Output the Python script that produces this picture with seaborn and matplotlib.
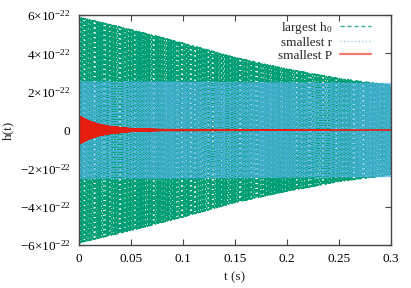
import numpy as np
import pandas as pd
import matplotlib
matplotlib.use("Agg")
import matplotlib.pyplot as plt
import seaborn as sns

# envelope amplitudes (units of 1e-22)
t_env_h0 = [0.0, 0.05, 0.1, 0.15, 0.2, 0.25, 0.3]
amp_h0 = [5.9, 5.25, 4.55, 3.8, 3.2, 2.7, 2.35]
t_env_r = [0.0, 0.15, 0.3]
amp_r = [2.55, 2.5, 2.45]
t_env_P = [0.0, 0.01, 0.02, 0.03, 0.05, 0.08, 0.3]
amp_P = [0.73, 0.45, 0.28, 0.18, 0.07, 0.02, 0.0]

# carrier frequencies (Hz), chosen so the bands fill like the reference
freq_h0 = 1130.0
freq_r = 1270.0
freq_P = 1950.0

labels = ["largest h$_0$", "smallest r", "smallest P"]
colors = ["#009e73", "#56b4e9", "#e51e10"]

xticks = [0, 0.05, 0.1, 0.15, 0.2, 0.25, 0.3]
xtick_labels = ["0", "0.05", "0.1", "0.15", "0.2", "0.25", "0.3"]
yticks = [-6, -4, -2, 0, 2, 4, 6]

sns.set_style("ticks")
plt.rcParams['font.family'] = ['Liberation Serif', 'DejaVu Serif']
plt.rcParams['mathtext.fontset'] = 'custom'
plt.rcParams['mathtext.rm'] = 'Liberation Serif'
plt.rcParams['mathtext.it'] = 'Liberation Serif:italic'
plt.rcParams['font.size'] = 9.5

t = np.linspace(0, 0.3, 60001)


def wave(t_env, amp, f):
    env = np.interp(t, t_env, amp)
    return env * np.cos(2 * np.pi * f * t) * 1e-22


df = pd.DataFrame({
    "t": t,
    "h0": wave(t_env_h0, amp_h0, freq_h0),
    "r": wave(t_env_r, amp_r, freq_r),
    "P": wave(t_env_P, amp_P, freq_P),
})

fig = plt.figure(figsize=(4.11, 2.88), dpi=100)
ax = fig.add_axes([0.192, 0.149, 0.759, 0.799])

sns.lineplot(data=df, x="t", y="h0", ax=ax, color=colors[0], lw=0.7,
             linestyle=(0, (3, 2)), estimator=None, sort=False, label=labels[0])
sns.lineplot(data=df, x="t", y="r", ax=ax, color=colors[1], lw=0.7, alpha=0.8,
             linestyle=(0, (1, 1.6)), estimator=None, sort=False, label=labels[1])
sns.lineplot(data=df, x="t", y="P", ax=ax, color=colors[2], lw=1.2,
             estimator=None, sort=False, label=labels[2])

ax.set_xlim(0, 0.3)
ax.set_ylim(-6e-22, 6e-22)
ax.set_xticks(xticks)
ax.set_xticklabels(xtick_labels)
ax.set_yticks([v * 1e-22 for v in yticks])
ylabels = []
for v in yticks:
    if v == 0:
        ylabels.append("0")
    elif v < 0:
        ylabels.append("\u2212%d\u00d710$^{-22}$" % abs(v))
    else:
        ylabels.append("%d\u00d710$^{-22}$" % v)
ax.set_yticklabels(ylabels)

ax.tick_params(direction="in", length=4, width=0.8, top=True, right=True,
               colors="#444444", labelcolor="black", pad=6)
for s in ax.spines.values():
    s.set_color("#444444")
    s.set_linewidth(1.0)

ax.set_xlabel("t (s)", labelpad=4)
ax.set_ylabel("h(t)", labelpad=4)

leg = ax.legend(loc="upper right", bbox_to_anchor=(0.975, 1.03), frameon=False,
                markerfirst=False, handlelength=2.4, handletextpad=0.55,
                labelspacing=0.05, fontsize=9.5)
for line, w, a in zip(leg.get_lines(), [1.0, 1.0, 1.6], [0.8, 0.6, 0.6]):
    line.set_linewidth(w)
    line.set_alpha(a)

fig.savefig("out.png", dpi=100)
